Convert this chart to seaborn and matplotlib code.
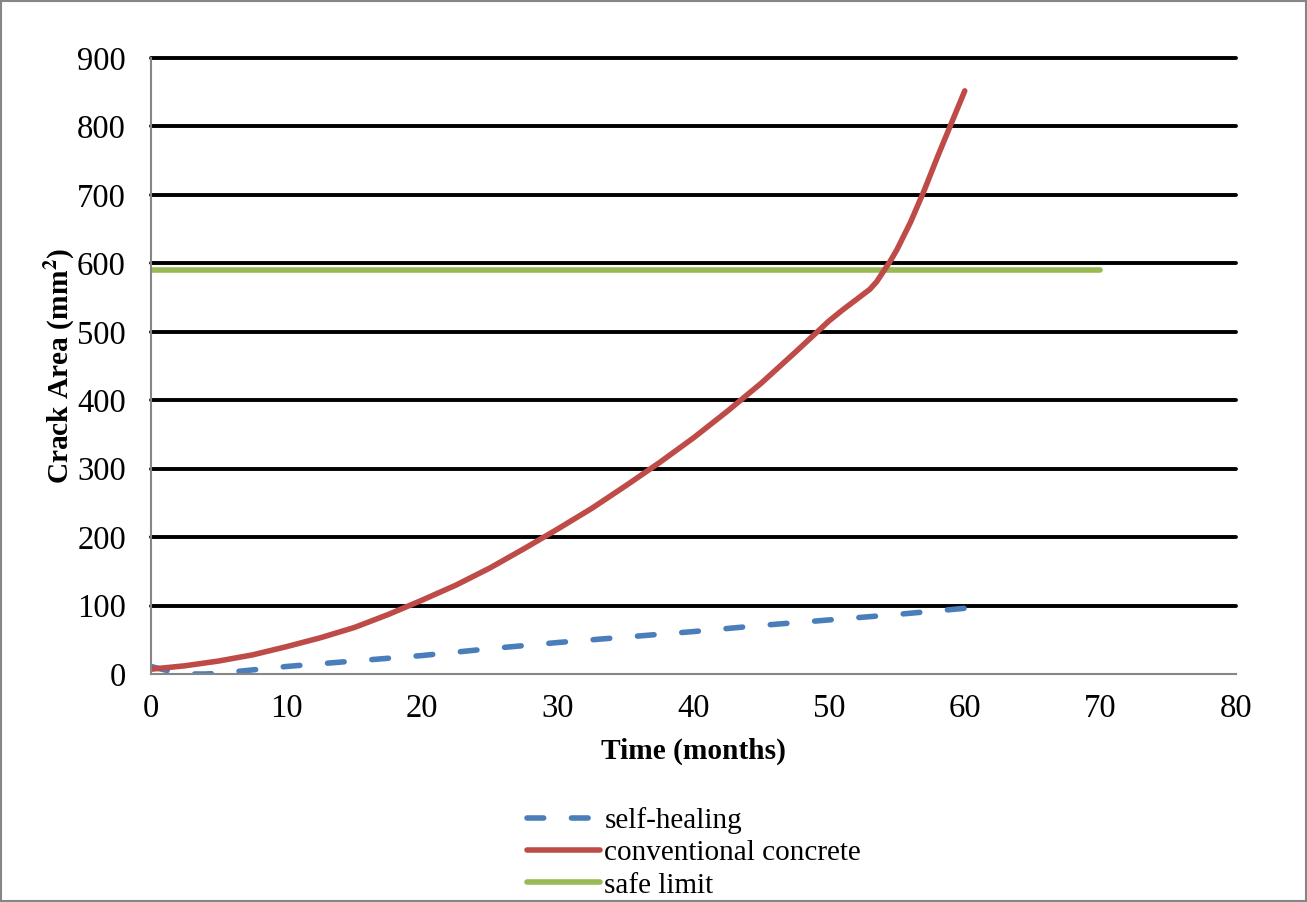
import matplotlib
matplotlib.use("Agg")
import matplotlib.pyplot as plt
import seaborn as sns
import pandas as pd
from matplotlib.patches import Rectangle

# Data
self_healing_x = [0, 1, 2, 3, 4, 5, 10, 15, 20, 25, 30, 35, 40, 45, 50, 55, 60]
self_healing_y = [11, 6, 2, 0, 0, 1, 11, 19, 27, 37, 46, 54, 62, 71, 79, 87, 96]

conventional_x = [0, 2.5, 5, 7.5, 10, 12.5, 15, 17.5, 20, 22.5, 25, 27.5, 30, 32.5, 35,
                  37.5, 40, 42.5, 45, 47.5, 50, 51, 52, 53, 53.5, 54, 54.5, 55, 56, 57,
                  58, 59, 60]
conventional_y = [7, 12, 19, 28, 40, 53, 68, 87, 108, 130, 155, 183, 212, 242, 275,
                  309, 345, 384, 425, 470, 516, 532, 547, 562, 573, 588, 603, 620, 660, 706,
                  756, 804, 852]

safe_limit_x = [0, 70]
safe_limit_y = [590, 590]

series_labels = ["self-healing", "conventional concrete", "safe limit"]
x_ticks = [0, 10, 20, 30, 40, 50, 60, 70, 80]
y_ticks = [0, 100, 200, 300, 400, 500, 600, 700, 800, 900]

sns.set_style("white")
plt.rcParams['font.family'] = ['Liberation Serif', 'DejaVu Serif']
plt.rcParams['mathtext.fontset'] = 'stix'
plt.rcParams['text.color'] = 'black'
plt.rcParams['axes.labelcolor'] = 'black'
plt.rcParams['xtick.color'] = 'black'
plt.rcParams['ytick.color'] = 'black'

fig = plt.figure(figsize=(13.07, 9.02), dpi=100)
ax = fig.add_axes([151/1307, 1-674/902, (1236-151)/1307, (674-58)/902])

FS_TICK = 23.5
FS_LAB = 21.2
FS_LEG = 21

for yv in y_ticks[1:]:
    ax.axhline(yv, color="black", lw=2.8, zorder=1, clip_on=False)

df_sh = pd.DataFrame({"x": self_healing_x, "y": self_healing_y})
df_cc = pd.DataFrame({"x": conventional_x, "y": conventional_y})
df_sl = pd.DataFrame({"x": safe_limit_x, "y": safe_limit_y})

LW = 4.0
sns.lineplot(data=df_sh, x="x", y="y", ax=ax, color="#4A7EBB", lw=LW,
             label=series_labels[0], zorder=3)
sns.lineplot(data=df_cc, x="x", y="y", ax=ax, color="#BE4B48", lw=LW,
             label=series_labels[1], zorder=4)
sns.lineplot(data=df_sl, x="x", y="y", ax=ax, color="#98B954", lw=LW,
             label=series_labels[2], zorder=2)

lines = ax.get_lines()
series_lines = lines[-3:]
series_lines[0].set_dashes((3, 5))
series_lines[0].set_dash_capstyle("round")
for ln in series_lines:
    ln.set_solid_capstyle("round")
    ln.set_solid_joinstyle("round")

ax.set_xlim(0, 80)
ax.set_ylim(0, 900)
ax.set_xticks(x_ticks)
ax.set_yticks(y_ticks)
ax.tick_params(axis="both", labelsize=FS_TICK, labelcolor="black", direction="out",
               length=8, width=1.5, color="#868686")
ax.tick_params(axis="y", pad=10)
ax.tick_params(axis="x", pad=6)
for s in ["top", "right"]:
    ax.spines[s].set_visible(False)
for s in ["left", "bottom"]:
    ax.spines[s].set_color("#868686")
    ax.spines[s].set_linewidth(1.5)
    ax.spines[s].set_zorder(5)

ax.set_xlabel("Time (months)", fontsize=FS_LAB, fontweight="bold", labelpad=10, color="black")
ax.set_ylabel("Crack Area (mm$^{\\mathbf{2}}$)", fontsize=FS_LAB, fontweight="bold",
              labelpad=0, color="black")

handles, labels = ax.get_legend_handles_labels()
ax.get_legend().remove()
leg = fig.legend(handles, labels, loc="center", bbox_to_anchor=(0.531, 0.0545),
                 frameon=False, fontsize=FS_LEG, handlelength=2.5, handletextpad=0.15,
                 labelspacing=0.2, borderaxespad=0, labelcolor="black")
leg.get_lines()[0].set_dashes((3, 5))
leg.get_lines()[0].set_dash_capstyle("round")
for ln in leg.get_lines():
    ln.set_solid_capstyle("round")

fig.patches.append(Rectangle((0.001, 0.001), 0.998, 0.998, transform=fig.transFigure,
                             fill=False, edgecolor="#868686", lw=1.5))

fig.savefig("out.png", dpi=100)
